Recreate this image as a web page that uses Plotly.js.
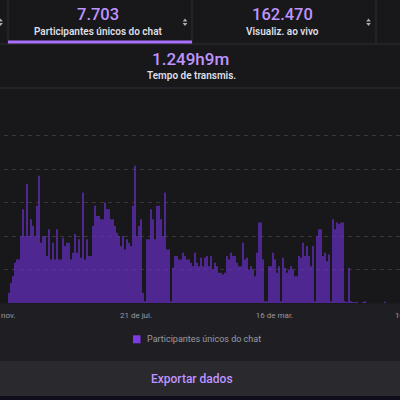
<!DOCTYPE html>
<html><head><meta charset="utf-8">
<script src="https://cdn.plot.ly/plotly-3.0.1.min.js"></script>
<style>
html,body{margin:0;padding:0;background:#18181b;overflow:hidden;width:400px;height:400px;}
#chart{position:absolute;left:-20px;top:0;width:460px;height:400px;}
</style>
</head><body><div id="chart"></div>
<script>
// ---- data ----
const values = [3,6,8,12,13,13,20,28,20,35.5,20,25,23,20,29,38,18,20,20,14,
22,13,18,13,22,13,13,19.5,17,18,18,13,15,20.6,15,19,13.5,33,13,19,
14,14,23,29,26,26,25,25,30,28,28,25,25,23,21,20,17,20,16,19,
18,17,29,41,20,23,25,3,0.5,19,19,28,25,19,29,29,25,20,33,16,
16,0.5,10.5,14,14,13,13,15,14,13,13,12,11,15,12,11,13.5,11,13.5,14,
11,14,10,12,11,9,9,8.5,9,14,13,15,14,14,12,11,11,18,13,13.5,
10,11,10,8,15,24,24,13,0.5,0.5,11,11,15,13,9,11,0.5,13.5,10.5,9,
10,11,10,8,8,14,13.5,18,14,17,14,11,17,0.5,20,22,22,14,15,12.5,
14.5,0.5,25,22,24,23.5,24,24,0.5,0.3,10.5,0.5,0.3,0.3,0.3,0,0,0.3,0.5,0,
0,0,0,0,0,0,0,0,0.4,0,0];
const tickIdx = [-5.75, 63.5, 132.75, 202];
const tickText = ["25 de nov.", "21 de jul.", "16 de mar.", "10 de nov."];
const gridVals = [10, 20, 30, 40, 50];
const seriesName = "Participantes únicos do chat";
const metricValues = ["7.703", "162.470", "1.249h9m"];
const metricLabels = ["Participantes únicos do chat", "Visualiz. ao vivo", "Tempo de transmis."];
const exportLabel = "Exportar dados";

// ---- helpers (page pixel -> paper; plot area spans page x -20..440, y 92..303) ----
const W = 460, H = 400, OFF = 20, TOP = 92, BOT = 303;
const px = x => (x + OFF) / W;
const py = y => (BOT - y) / (BOT - TOP);
const FONT = "Roboto, 'Noto Sans', sans-serif";
const idx = values.map((_, i) => i);

const trace = {
  type: 'bar', x: idx, y: values, name: seriesName,
  marker: {color: '#6530c2', line: {width: 0}},
  hoverinfo: 'skip', showlegend: false
};

const rect = (x0, y0, x1, y1, fill) => ({type: 'rect', xref: 'paper', yref: 'paper',
  x0: px(x0), x1: px(x1), y0: py(y1), y1: py(y0), fillcolor: fill, line: {width: 0}, layer: 'below'});
const line = (x0, y0, x1, y1, c) => ({type: 'line', xref: 'paper', yref: 'paper',
  x0: px(x0), x1: px(x1), y0: py(y0), y1: py(y1), line: {color: c, width: 1}});
const tri = (cx, ya, yb) => ({type: 'path', xref: 'paper', yref: 'paper',
  path: `M${px(cx-2.3)},${py(yb)} L${px(cx+2.3)},${py(yb)} L${px(cx)},${py(ya)} Z`,
  fillcolor: '#adadb8', line: {width: 0}});

const shapes = [
  rect(-20, 303.5, 440, 361, '#1f1f23'),
  rect(-20, 361, 440, 396, '#29292e'),
  rect(-20, 396, 440, 400, '#0e0e1e'),
  line(8, 0, 8, 44, '#2f2f35'),
  line(192, 0, 192, 44, '#2f2f35'),
  line(376, 0, 376, 44, '#2f2f35'),
  line(-20, 44, 440, 44, '#2f2f35'),
  line(-20, 88, 440, 88, '#2f2f35'),
  {type: 'rect', xref: 'paper', yref: 'paper', x0: px(8), x1: px(192), y0: py(43.5), y1: py(40.5),
   fillcolor: '#a970ff', line: {width: 0}},
  tri(185, 18.5, 21.5), tri(185, 26, 23),
  tri(368.5, 18.5, 21.5), tri(368.5, 26, 23),
  tri(0.5, 18.5, 21.5), tri(0.5, 26, 23),
  {type: 'rect', xref: 'paper', yref: 'paper', x0: px(133), x1: px(140.5), y0: py(343.3), y1: py(335.3),
   fillcolor: '#7b3ae6', line: {width: 0}}
];

const ann = (text, x, y, size, color, weight, xanchor) => ({
  text, xref: 'paper', yref: 'paper', x: px(x), y: py(y), showarrow: false,
  xanchor: xanchor || 'center', yanchor: 'middle',
  font: {family: FONT, size, color, weight: weight || 400}
});

const annotations = [
  ann(metricValues[0], 98.3, 15, 16.5, '#bf94ff', 500),
  ann(metricLabels[0], 98.5, 31.5, 10, '#dedee3', 600),
  ann(metricValues[1], 282.5, 15, 16.5, '#bf94ff', 500),
  ann(metricLabels[1], 282.5, 31.5, 10, '#dedee3', 600),
  ann(metricValues[2], 190.5, 59.5, 17, '#bf94ff', 500),
  ann(metricLabels[2], 191, 75.5, 10, '#dedee3', 600),
  ann(seriesName, 144.5, 339.3, 9, '#9a9aa4', 400, 'left'),
  ann(exportLabel, 192, 379, 12, '#bf94ff', 500)
];

const layout = {
  width: W, height: H,
  margin: {l: 0, r: 0, t: TOP, b: H - BOT, pad: 0},
  paper_bgcolor: '#18181b', plot_bgcolor: '#18181b',
  bargap: 0.3, showlegend: false,
  font: {family: FONT},
  xaxis: {range: [-14.5, 215.5], tickvals: tickIdx, ticktext: tickText, showgrid: false,
    zeroline: false, showline: false, ticks: '', ticklabelstandoff: 6, ticklabeloverflow: 'allow',
    tickfont: {family: FONT, size: 8, color: '#9a9aa3'}, fixedrange: true},
  yaxis: {range: [0, 63], tickvals: gridVals, showticklabels: false, showgrid: true,
    gridcolor: '#36363c', griddash: '4px,4px', gridwidth: 1, zeroline: false, showline: false,
    fixedrange: true},
  shapes, annotations
};

Plotly.newPlot('chart', [trace], layout, {displayModeBar: false, staticPlot: true});
</script>
</body></html>
